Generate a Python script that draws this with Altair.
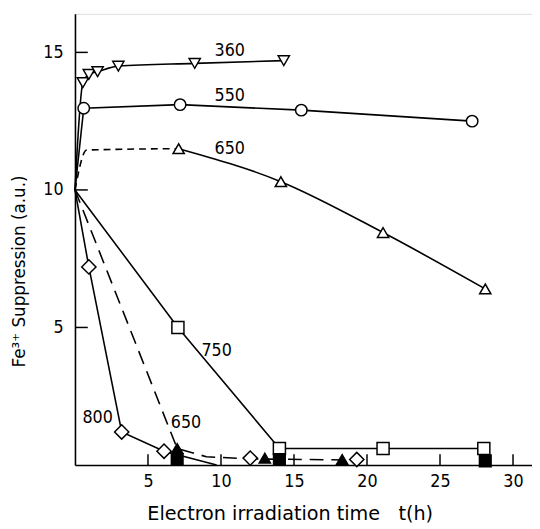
import altair as alt
import pandas as pd

# ---- data ----
t360 = [0, 0.54, 0.95, 1.55, 2.97, 8.2, 14.3]
s360 = [10, 13.9, 14.2, 14.3, 14.5, 14.6, 14.7]

t550 = [0, 0.6, 7.2, 15.5, 27.2]
s550 = [10, 12.97, 13.1, 12.9, 12.5]

t650a_dash = [0, 0.8, 7.1]
s650a_dash = [10, 11.45, 11.5]
t650a = [7.1, 14.1, 21.1, 28.1]
s650a = [11.5, 10.3, 8.45, 6.4]

t750 = [0, 7.05, 14.0, 21.1, 28.0]
s750 = [10, 5.0, 0.6, 0.6, 0.6]

t800 = [0, 0.95, 3.2, 6.1, 9.7]
s800 = [10, 7.2, 1.2, 0.5, 0.0]
t800_extra = [12.0, 19.3]
s800_extra = [0.25, 0.2]

t650b = [0, 7.0, 9.0, 12.0, 19.3]
s650b = [10, 0.6, 0.3, 0.22, 0.18]
t650b_tri = [7.0, 13.0, 18.3]
s650b_tri = [0.6, 0.25, 0.2]
t650b_sq = [7.0, 14.0, 28.1]
s650b_sq = [0.2, 0.2, 0.15]

label_text = ["360", "550", "650", "750", "800", "650"]
label_t = [10.6, 10.6, 10.6, 9.7, 1.55, 7.6]
label_s = [15.05, 13.4, 11.5, 4.15, 1.72, 1.54]

x_ticks = [5, 10, 15, 20, 25, 30]
y_ticks = [5, 10, 15]

XMAX, YMAX = 31.3, 16.4
W, H = 464, 458
FONT = "DejaVu Sans Condensed, DejaVu Sans"

xs = alt.Scale(domain=[0, XMAX], nice=False, zero=False)
ys = alt.Scale(domain=[0, YMAX], nice=False, zero=False)


def df(t, s):
    return pd.DataFrame({"t": t, "s": s})


def line(t, s, dash=None, interp="linear"):
    kw = dict(color="black", strokeWidth=1.6, interpolate=interp)
    if dash:
        kw["strokeDash"] = dash
    return alt.Chart(df(t, s)).mark_line(**kw).encode(
        x=alt.X("t:Q", scale=xs), y=alt.Y("s:Q", scale=ys))


def pts(t, s, shape, filled=False, size=120):
    return alt.Chart(df(t, s)).mark_point(
        shape=shape, filled=True, size=size,
        fill="black" if filled else "white", stroke="black",
        strokeWidth=1.5, opacity=1).encode(
        x=alt.X("t:Q", scale=xs), y=alt.Y("s:Q", scale=ys))


base = alt.Chart(df([0], [0])).mark_point(opacity=0).encode(
    x=alt.X("t:Q", scale=xs, axis=alt.Axis(
        values=x_ticks, ticks=False, grid=False, domainColor="black",
        domainWidth=1.6, labelFontSize=18, labelPadding=8, labelColor="black",
        labelFont=FONT,
        title="Electron irradiation time\u00a0\u00a0\u00a0t(h)",
        titleFont="DejaVu Sans", titleFontSize=19.5, titleFontWeight="normal",
        titleColor="black", titleX=218, titleY=49, titleBaseline="middle",
        titleAnchor="middle", titleAlign="center")),
    y=alt.Y("s:Q", scale=ys, axis=alt.Axis(
        values=y_ticks, ticks=False, grid=False, domainColor="black",
        domainWidth=1.6, labelFontSize=18, labelPadding=12, labelColor="black",
        labelFont=FONT,
        title="Fe\u00b3\u207a Suppression (a.u.)",
        titleFont="DejaVu Sans", titleFontSize=17, titleFontWeight="normal",
        titleColor="black", titleX=-56, titleY=261, titleAngle=-90,
        titleBaseline="middle", titleAlign="center")),
)

xtick_layer = alt.Chart(pd.DataFrame({"t": x_ticks})).mark_rule(
    color="black", strokeWidth=1.5).encode(
    x=alt.X("t:Q", scale=xs), y=alt.value(H), y2=alt.value(H - 11))
ytick_layer = alt.Chart(pd.DataFrame({"s": y_ticks})).mark_rule(
    color="black", strokeWidth=1.5).encode(
    y=alt.Y("s:Q", scale=ys), x=alt.value(0), x2=alt.value(13))

labels = alt.Chart(pd.DataFrame({"t": label_t, "s": label_s, "lab": label_text})).mark_text(
    font=FONT, fontSize=18, color="black", align="center", baseline="middle").encode(
    x=alt.X("t:Q", scale=xs), y=alt.Y("s:Q", scale=ys), text="lab:N")

layers = [
    base,
    xtick_layer, ytick_layer,
    line(t360, s360, interp="monotone"),
    line(t550, s550),
    line(t650a_dash, s650a_dash, dash=[7, 5], interp="monotone"),
    line(t650a, s650a, interp="monotone"),
    line(t750, s750),
    line(t800, s800),
    line(t650b, s650b, dash=[14, 8]),
    pts(t360[1:], s360[1:], "triangle-down", size=130),
    pts(t550[1:], s550[1:], "circle", size=135),
    pts(t650a, s650a, "triangle-up", size=130),
    pts(t750[1:], s750[1:], "square", size=150),
    pts(t800[1:4], s800[1:4], "diamond", size=210),
    pts(t800_extra, s800_extra, "diamond", size=210),
    pts(t650b_tri, s650b_tri, "triangle-up", filled=True, size=130),
    pts(t650b_sq, s650b_sq, "square", filled=True, size=140),
    labels,
]

chart = alt.layer(*layers).properties(
    width=W, height=H,
    padding={"left": 68, "top": 2, "right": 0, "bottom": 60},
    autosize=alt.AutoSizeParams(type="none"),
).configure_view(stroke=None).configure(background="white")

chart.save("out.html", embed_options={"renderer": "svg", "actions": False})
